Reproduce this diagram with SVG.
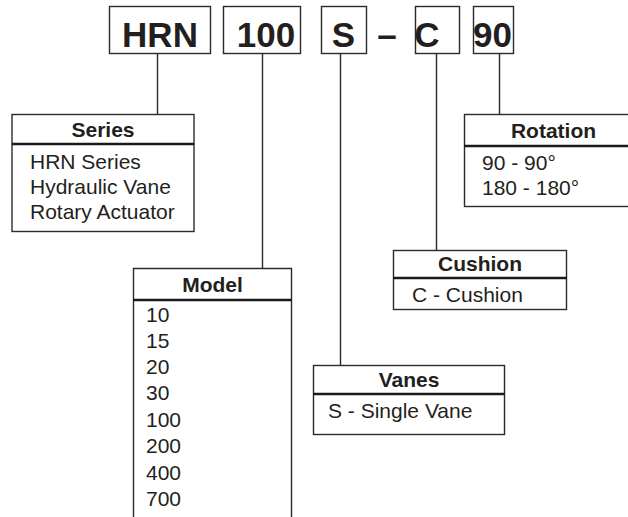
<svg xmlns="http://www.w3.org/2000/svg" width="628" height="517" viewBox="0 0 628 517">
<style>
.box{fill:none;stroke:#2a2a2a;stroke-width:1.4}
.sep{stroke:#1a1a1a;stroke-width:2.6}
.con{stroke:#2a2a2a;stroke-width:1.4;fill:none}
.big{font-family:"Liberation Sans",Arial,sans-serif;font-weight:bold;font-size:35px;fill:#231f20}
.hd{font-family:"Liberation Sans",Arial,sans-serif;font-weight:bold;font-size:21px;fill:#231f20;text-anchor:middle}
.tx{font-family:"Liberation Sans",Arial,sans-serif;font-size:21px;fill:#231f20}
</style>
<rect width="628" height="517" fill="#fff"/>
<g id="code">
<g id="code-hrn"><rect class="box" x="109.5" y="6.5" width="101" height="47"/><text class="big" x="160" y="47" text-anchor="middle">HRN</text></g>
<g id="code-100"><rect class="box" x="223.5" y="6.5" width="77" height="47"/><text class="big" x="266" y="47" text-anchor="middle">100</text></g>
<g id="code-s"><rect class="box" x="321.5" y="6.5" width="45" height="47"/><text class="big" x="343.5" y="47" text-anchor="middle">S</text></g>
<g id="code-dash"><text class="big" x="387" y="47" text-anchor="middle">–</text></g>
<g id="code-c"><rect class="box" x="415.5" y="6.5" width="44" height="47"/><text class="big" x="427" y="47" text-anchor="middle">C</text></g>
<g id="code-90"><rect class="box" x="473.5" y="6.5" width="40" height="47"/><text class="big" x="492.5" y="47" text-anchor="middle">90</text></g>
</g>
<g id="connectors">
<line class="con" x1="157.5" y1="53.5" x2="157.5" y2="114"/>
<line class="con" x1="262.5" y1="53.5" x2="262.5" y2="268"/>
<line class="con" x1="340.5" y1="53.5" x2="340.5" y2="365"/>
<line class="con" x1="436.5" y1="53.5" x2="436.5" y2="250"/>
<line class="con" x1="499.5" y1="53.5" x2="499.5" y2="114"/>
</g>
<g id="series">
<rect class="box" x="12" y="114.5" width="182" height="117"/>
<line class="sep" x1="12" y1="144" x2="194" y2="144"/>
<text class="hd" x="103" y="137">Series</text>
<text class="tx" x="30" y="169">HRN Series</text>
<text class="tx" x="30" y="194">Hydraulic Vane</text>
<text class="tx" x="30" y="219">Rotary Actuator</text>
</g>
<g id="model">
<path class="box" d="M133.5 520V268.5H291.5V520"/>
<line class="sep" x1="133" y1="300" x2="292" y2="300"/>
<text class="hd" x="212.5" y="292">Model</text>
<text class="tx" x="146" y="322">10</text>
<text class="tx" x="146" y="348">15</text>
<text class="tx" x="146" y="374">20</text>
<text class="tx" x="146" y="400">30</text>
<text class="tx" x="146" y="427">100</text>
<text class="tx" x="146" y="453">200</text>
<text class="tx" x="146" y="480">400</text>
<text class="tx" x="146" y="506">700</text>
</g>
<g id="vanes">
<rect class="box" x="313.5" y="365.5" width="191" height="69"/>
<line class="sep" x1="313" y1="394" x2="505" y2="394"/>
<text class="hd" x="409" y="387">Vanes</text>
<text class="tx" x="328" y="418">S - Single Vane</text>
</g>
<g id="cushion">
<rect class="box" x="393.5" y="250.5" width="173" height="59"/>
<line class="sep" x1="393" y1="278" x2="567" y2="278"/>
<text class="hd" x="480" y="271">Cushion</text>
<text class="tx" x="412" y="302">C - Cushion</text>
</g>
<g id="rotation">
<rect class="box" x="464.5" y="114.5" width="180" height="92"/>
<line class="sep" x1="464" y1="146" x2="628" y2="146"/>
<text class="hd" x="553.5" y="138">Rotation</text>
<text class="tx" x="482" y="170">90 - 90°</text>
<text class="tx" x="482" y="195">180 - 180°</text>
</g>
</svg>
